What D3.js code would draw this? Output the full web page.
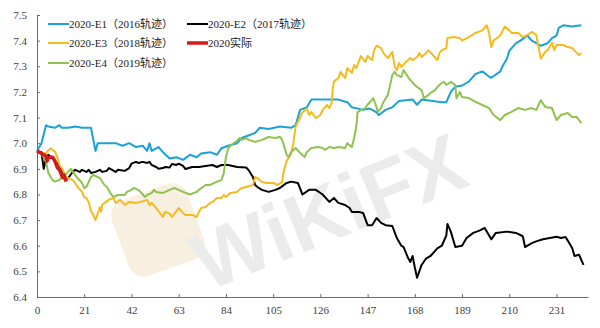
<!DOCTYPE html>
<html>
<head>
<meta charset="utf-8">
<script src="https://cdn.jsdelivr.net/npm/d3@7"></script>
<style>
	body { margin: 0; background: #fff; }
	.axis text { font-family: "Liberation Serif", "DejaVu Serif", serif; font-size: 11px; fill: #404040; }
	.axis path, .axis line { stroke: #6b6b6b; }
	.legend text { font-family: "Liberation Serif", "Noto Sans CJK SC", serif; font-size: 11px; fill: #222; }
</style>
</head>
<body>
<div id="chart"></div>
<script>
/* data: [trading day, rate] */
var xTicks = [0, 21, 42, 63, 84, 105, 126, 147, 168, 189, 210, 231];
var yTicks = [6.4, 6.5, 6.6, 6.7, 6.8, 6.9, 7.0, 7.1, 7.2, 7.3, 7.4, 7.5];
var names = ["2020-E1（2016轨迹）", "2020-E2（2017轨迹）", "2020-E3（2018轨迹）", "2020实际", "2020-E4（2019轨迹）"];

var e1 = [[0,6.97],[2,7.00],[4,7.07],[5,7.065],[8,7.06],[10,7.07],[11,7.06],[14,7.06],[17,7.065],[20,7.06],[24,7.06],
	[26,6.97],[27,7.00],[32,7.00],[35,7.00],[38,6.99],[41,7.00],[44,6.985],[47,6.99],[49,6.97],[50,7.00],[51,6.97],
	[54,6.985],[56,6.965],[59,6.94],[62,6.945],[65,6.935],[68,6.955],[71,6.945],[73,6.96],[77,6.965],[80,6.955],
	[82,6.98],[85,6.99],[89,7.00],[91,7.02],[94,7.03],[97,7.04],[99,7.06],[103,7.055],[108,7.065],[113,7.06],
	[115,7.07],[117,7.13],[120,7.14],[122,7.17],[126,7.17],[130,7.17],[134,7.17],[138,7.16],[140,7.14],[145,7.13],
	[148,7.135],[151,7.12],[152,7.11],[155,7.13],[158,7.14],[161,7.165],[167,7.17],[169,7.15],[171,7.17],[180,7.16],
	[182,7.16],[184,7.20],[186,7.22],[189,7.225],[192,7.24],[195,7.27],[198,7.28],[201,7.26],[202,7.255],[206,7.28],
	[207,7.30],[209,7.33],[210,7.36],[213,7.39],[215,7.40],[218,7.42],[220,7.40],[222,7.39],[224,7.38],[227,7.39],
	[229,7.41],[231,7.42],[232,7.45],[234,7.46],[238,7.455],[242,7.46]];

var e2 = [[0,6.97],[2,6.965],[3,6.90],[4,6.94],[4.5,6.93],[5,6.955],[7,6.94],[10,6.91],[11,6.895],[13,6.86],[14,6.865],
	[16,6.89],[17,6.896],[19,6.888],[20,6.896],[22,6.888],[23,6.896],[24,6.884],[26,6.888],[28,6.896],[29,6.888],
	[31,6.892],[32,6.903],[35,6.888],[36,6.896],[39,6.892],[41,6.903],[42,6.92],[44,6.927],[45,6.923],[47,6.927],
	[49,6.923],[50,6.927],[51,6.915],[53,6.907],[54,6.90],[56,6.903],[57,6.907],[59,6.905],[60,6.919],[62,6.915],
	[63,6.92],[65,6.911],[66,6.899],[69,6.907],[72,6.907],[75,6.911],[78,6.915],[80,6.907],[82,6.915],[85,6.915],
	[89,6.907],[93,6.905],[94,6.896],[96,6.868],[97,6.837],[98,6.829],[100,6.818],[103,6.81],[106,6.818],[108,6.825],
	[111,6.845],[113,6.85],[116,6.845],[118,6.80],[121,6.818],[124,6.818],[127,6.80],[130,6.771],[132,6.786],
	[134,6.767],[137,6.759],[139,6.747],[140,6.732],[143,6.732],[145,6.728],[147,6.68],[149,6.68],[151,6.708],
	[153,6.689],[155,6.68],[158,6.677],[160,6.63],[162,6.60],[163,6.595],[165,6.552],[166,6.537],[167,6.56],
	[168,6.515],[169,6.475],[171,6.525],[173,6.55],[175,6.56],[178,6.59],[180,6.60],[182,6.64],[182.5,6.685],
	[184,6.655],[186,6.595],[189,6.60],[191,6.63],[194,6.65],[197,6.66],[199,6.67],[202,6.625],[204,6.65],
	[209,6.655],[213,6.65],[216,6.637],[217,6.595],[220,6.61],[222,6.617],[225,6.625],[228,6.63],[231,6.635],
	[233,6.63],[235,6.634],[236,6.62],[238,6.59],[239,6.56],[241,6.565],[243,6.525]];

var e3 = [[0,6.97],[2,6.96],[4,6.962],[6,6.98],[8,6.966],[9,6.946],[10,6.915],[11,6.903],[13,6.868],[14,6.864],
	[16,6.856],[18,6.83],[20,6.81],[21,6.79],[22,6.786],[23,6.77],[24,6.735],[25,6.72],[26,6.70],[28,6.75],
	[28.5,6.732],[29,6.76],[32,6.78],[34,6.786],[35,6.767],[37,6.779],[39,6.759],[41,6.771],[44,6.767],[46,6.771],
	[49,6.779],[50,6.759],[51,6.767],[53,6.747],[56,6.712],[57,6.732],[59,6.725],[60,6.712],[62,6.735],[63,6.747],
	[65,6.728],[66,6.72],[69,6.72],[71,6.712],[72,6.732],[73,6.747],[75,6.751],[77,6.767],[78,6.771],[80,6.786],
	[82,6.786],[83,6.798],[84,6.79],[86,6.806],[89,6.81],[90,6.818],[91,6.825],[93,6.829],[96,6.837],[97,6.868],
	[98,6.864],[100,6.849],[102,6.845],[105,6.845],[107,6.837],[109,6.849],[109.5,6.88],[110,6.90],[111,6.93],
	[113,6.96],[114,7.00],[115,7.065],[117,7.10],[118,7.12],[120,7.135],[121,7.11],[122,7.122],[124,7.098],
	[126,7.11],[127,7.13],[129,7.149],[130,7.137],[131,7.157],[131.5,7.21],[132,7.24],[134,7.254],[135,7.278],
	[137,7.254],[138,7.293],[140,7.274],[141,7.305],[142,7.293],[144,7.34],[146,7.317],[147,7.34],[149,7.324],
	[150,7.365],[151,7.38],[153,7.371],[154,7.352],[156,7.332],[158,7.356],[159,7.30],[160,7.285],[161,7.313],
	[162,7.297],[164,7.317],[166,7.332],[167,7.324],[169,7.336],[170,7.352],[171,7.336],[173,7.352],[174,7.363],
	[176,7.344],[178,7.324],[179,7.352],[180,7.363],[182,7.371],[182.5,7.41],[185,7.414],[188,7.41],[189,7.40],
	[192,7.414],[195,7.43],[198,7.44],[200,7.46],[201,7.43],[202,7.375],[203,7.40],[206,7.42],[208,7.455],
	[210,7.44],[211,7.43],[214,7.43],[216,7.414],[218,7.422],[220,7.434],[222,7.422],[223,7.375],[224,7.33],
	[226,7.356],[227,7.363],[229,7.391],[230,7.363],[231,7.383],[234,7.383],[236,7.375],[238,7.371],[240,7.352],
	[241,7.344],[242,7.352]];

var e4 = [[0,6.97],[2,6.96],[4,6.93],[5,6.885],[7,6.855],[8,6.85],[10,6.856],[11,6.87],[13,6.88],[15,6.90],
	[16,6.888],[18,6.864],[20,6.845],[21,6.825],[22,6.83],[24,6.868],[25,6.876],[27,6.868],[28,6.864],[30,6.837],
	[31,6.83],[33,6.80],[34,6.79],[36,6.798],[39,6.798],[40,6.81],[42,6.818],[43,6.825],[45,6.818],[46,6.81],
	[48,6.79],[49,6.798],[51,6.806],[52,6.818],[53,6.81],[56,6.806],[57,6.81],[59,6.818],[61,6.825],[63,6.818],
	[65,6.81],[68,6.80],[71,6.81],[72,6.818],[75,6.837],[77,6.837],[80,6.85],[82,6.856],[83,6.88],[84,6.945],
	[85,6.98],[86,6.99],[89,7.01],[90,7.02],[91,7.013],[93,7.02],[94,7.013],[97,7.005],[100,7.013],[103,7.024],
	[106,7.02],[108,7.025],[109,7.013],[110,6.985],[111,6.955],[112,6.946],[113,6.966],[115,6.981],[117,6.962],
	[119,6.946],[120,6.966],[122,6.981],[125,6.985],[127,6.981],[128,6.974],[130,6.985],[132,6.981],[134,6.985],
	[137,6.981],[138,7.0],[140,6.985],[141,7.02],[142,7.065],[142.5,7.12],[144,7.13],[146,7.137],[147,7.15],
	[149,7.17],[149.5,7.176],[151,7.14],[151.5,7.122],[153,7.137],[154,7.16],[156,7.188],[157,7.227],[158,7.266],
	[159,7.278],[160,7.266],[162,7.258],[163,7.285],[165,7.258],[166,7.246],[168,7.227],[169,7.219],[171,7.207],
	[172,7.176],[174,7.188],[175,7.196],[177,7.207],[178,7.219],[180,7.235],[181,7.239],[182,7.227],[184,7.239],
	[186,7.227],[186.5,7.175],[188,7.20],[189,7.18],[192,7.176],[195,7.161],[198,7.149],[201,7.137],[203,7.11],
	[206,7.09],[208,7.11],[211,7.122],[214,7.137],[217,7.13],[220,7.137],[222,7.13],[224,7.168],[226,7.141],
	[229,7.137],[231,7.09],[233,7.11],[236,7.118],[238,7.102],[240,7.102],[242,7.078]];

var actual = [[0,6.97],[2,6.96],[4,6.95],[4.5,6.93],[5,6.945],[7,6.945],[8,6.93],[9,6.905],[10,6.896],[11,6.875],
	[11.5,6.865],[12,6.876],[13,6.85]];

var W = 600, H = 328;
var svg = d3.select("#chart").append("svg")
	.attr("width", W)
	.attr("height", H);

var x = d3.scaleLinear().domain([0, 245]).range([37, 588]);
var y = d3.scaleLinear().domain([6.4, 7.5]).range([297, 15]);

/* faint watermark */
var wm = svg.append("g").attr("opacity", 0.5);
wm.append("rect")
	.attr("x", 118).attr("y", 190).attr("width", 80).attr("height", 80).attr("rx", 16)
	.attr("transform", "rotate(-20,158,230)")
	.attr("fill", "#f1e2c4");
wm.append("text")
	.attr("x", 330).attr("y", 240)
	.attr("text-anchor", "middle")
	.attr("transform", "rotate(-22,330,215)")
	.attr("style", "font-family: 'Liberation Sans', sans-serif; font-weight: bold; font-size: 82px")
	.attr("fill", "#d9d9d9")
	.text("WiKiFX");

/* axes */
svg.append("g")
	.attr("class", "axis")
	.attr("transform", "translate(37,0)")
	.call(d3.axisLeft(y).tickValues(yTicks).tickFormat(d3.format(".1f"))
		.tickSizeInner(-3).tickSizeOuter(0).tickPadding(10));

svg.append("g")
	.attr("class", "axis")
	.attr("transform", "translate(0,297)")
	.call(d3.axisBottom(x).tickValues(xTicks).tickSizeInner(-3).tickSizeOuter(0).tickPadding(9));

/* lines */
var line = d3.line()
	.x(function(d){ return x(d[0]); })
	.y(function(d){ return y(d[1]); });

var series = [
	{data: e1, color: "#1ba1d6", width: 2},
	{data: e2, color: "#000000", width: 2},
	{data: e3, color: "#f5bb1c", width: 2},
	{data: e4, color: "#8fc24f", width: 2},
	{data: actual, color: "#d7191c", width: 3.5}
];
for (var i = 0; i < series.length; i += 1){
	svg.append("path")
		.attr("d", line(series[i].data))
		.attr("fill", "none")
		.attr("stroke", series[i].color)
		.attr("stroke-width", series[i].width)
		.attr("stroke-linejoin", "round");
}

/* legend */
var legend = [
	{name: names[0], color: "#1ba1d6", width: 2, lx: 48, ly: 24},
	{name: names[1], color: "#000000", width: 2, lx: 187, ly: 24},
	{name: names[2], color: "#f5bb1c", width: 2, lx: 48, ly: 43},
	{name: names[3], color: "#d7191c", width: 3.5, lx: 187, ly: 43},
	{name: names[4], color: "#8fc24f", width: 2, lx: 48, ly: 63}
];
var lg = svg.append("g").attr("class", "legend");
for (var i = 0; i < legend.length; i += 1){
	lg.append("line")
		.attr("x1", legend[i].lx).attr("x2", legend[i].lx + 21)
		.attr("y1", legend[i].ly).attr("y2", legend[i].ly)
		.attr("stroke", legend[i].color)
		.attr("stroke-width", legend[i].width);
	lg.append("text")
		.attr("x", legend[i].lx + 21)
		.attr("y", legend[i].ly)
		.attr("dy", "0.35em")
		.text(legend[i].name);
}
</script>
</body>
</html>
